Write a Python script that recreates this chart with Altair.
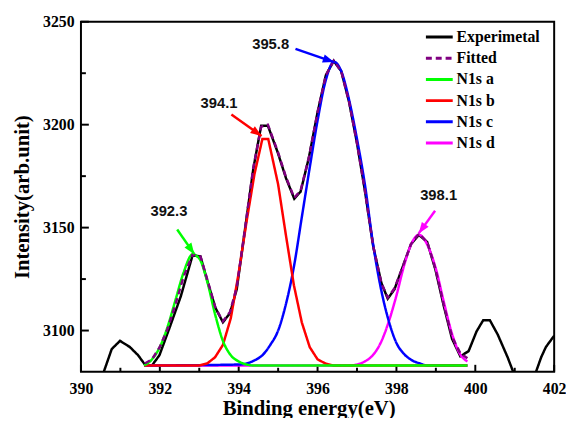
import math
import altair as alt
import pandas as pd

# ---------------- data ----------------
exp_x = [390.40, 390.58, 390.78, 390.99, 391.24, 391.45, 391.62, 391.80, 391.99, 392.24,
         392.53, 392.83, 393.03, 393.20, 393.41, 393.60, 393.78, 393.95, 394.12, 394.37,
         394.57, 394.74, 394.99, 395.20, 395.41, 395.57, 395.78, 396.00, 396.21, 396.41,
         396.60, 396.80, 397.00, 397.20, 397.41, 397.62, 397.78, 397.95, 398.16, 398.37,
         398.57, 398.78, 398.99, 399.20, 399.41, 399.62, 399.83, 400.03, 400.20, 400.37,
         400.57, 400.82, 401.00, 401.25, 401.54, 401.67, 401.79, 402.00]
exp_y = [3073, 3080, 3091, 3095, 3092, 3088, 3083.5, 3083, 3088, 3101,
         3116.5, 3136.5, 3136, 3124.5, 3111, 3104, 3108.5, 3120, 3143.5, 3178.5,
         3199.5, 3199.5, 3186.5, 3174, 3164, 3167.5, 3184, 3206, 3224, 3231,
         3226, 3211, 3191, 3168, 3141, 3123, 3115.5, 3120, 3131, 3142,
         3146.5, 3143, 3129.5, 3112, 3096, 3087.5, 3090, 3099.5, 3105, 3105,
         3098, 3087, 3078, 3068, 3080, 3087, 3092, 3097.5]

fit_x = [391.62, 391.80, 392.00, 392.20, 392.40, 392.60, 392.83, 393.03, 393.20, 393.41,
         393.60, 393.78, 393.95, 394.12, 394.37, 394.57, 394.74, 394.99, 395.20, 395.41,
         395.57, 395.78, 396.00, 396.21, 396.41, 396.60, 396.80, 397.00, 397.20, 397.41,
         397.62, 397.78, 397.95, 398.16, 398.37, 398.57, 398.78, 398.99, 399.20, 399.41,
         399.62, 399.80]
fit_y = [3084, 3086, 3092, 3101, 3113, 3126, 3137, 3136, 3125, 3111,
         3104.5, 3109, 3121, 3144, 3179, 3199, 3200, 3187, 3174.5, 3164.5,
         3168, 3184, 3206, 3224, 3231, 3226, 3211, 3191, 3168, 3141,
         3123, 3116, 3120.5, 3131, 3142, 3147, 3143, 3130, 3112.5, 3097,
         3089, 3086.5]

a_x = [391.6, 391.8, 392.0, 392.2, 392.4, 392.6, 392.83, 393.0, 393.2, 393.4,
       393.6, 393.8, 394.0, 394.2, 394.4, 399.8]
a_y = [3083, 3086, 3092, 3102, 3115, 3128, 3137, 3135, 3124, 3108,
       3095, 3088, 3085, 3083.5, 3083, 3083]

b_x = [391.6, 393.0, 393.2, 393.4, 393.6, 393.8, 394.0, 394.2, 394.4, 394.6,
       394.75, 395.0, 395.2, 395.4, 395.6, 395.8, 396.0, 396.2, 396.4, 399.8]
b_y = [3083, 3083, 3084, 3087, 3093, 3106, 3128, 3153, 3176, 3193,
       3193, 3171, 3146, 3122, 3104, 3092, 3086, 3084, 3083, 3083]

c_x = [391.6, 394.0, 394.2, 394.4, 394.6, 394.8, 395.0, 395.2, 395.4, 395.6,
       395.8, 396.0, 396.2, 396.42, 396.6, 396.8, 397.0, 397.2, 397.4, 397.6,
       397.8, 398.0, 398.2, 398.4, 398.6, 398.8, 399.8]
c_y = [3083, 3083.5, 3084, 3085.5, 3088, 3093, 3100, 3113, 3131, 3155,
       3179, 3202, 3221, 3230.5, 3226, 3212, 3193, 3171, 3143, 3121,
       3105, 3094, 3088.5, 3085.5, 3084, 3083, 3083]

d_x = [391.6, 396.8, 397.0, 397.2, 397.4, 397.6, 397.8, 398.0, 398.2, 398.4,
       398.57, 398.8, 399.0, 399.2, 399.4, 399.6, 399.8]
d_y = [3083, 3083, 3083.5, 3085, 3088, 3094, 3104, 3117, 3132, 3143,
       3146.5, 3141, 3130, 3114, 3099, 3089, 3085]

series_names = ["Experimetal", "Fitted", "N1s a", "N1s b", "N1s c", "N1s d"]
series_colors = ["#000000", "#800080", "#00ff00", "#ff0000", "#0000ff", "#ff00ff"]
series_dash = [[1, 0], [6, 4], [1, 0], [1, 0], [1, 0], [1, 0]]

ann_labels = ["392.3", "394.1", "395.8", "398.1"]
ann_x = [392.23, 393.50, 394.81, 399.07]
ann_y = [3157.8, 3210.4, 3239.0, 3165.6]
arrow_x1 = [392.44, 393.815, 395.44, 398.98]
arrow_y1 = [3149.1, 3204.9, 3236.8, 3158.2]
arrow_x2 = [392.875, 394.58, 396.415, 398.565]
arrow_y2 = [3137.1, 3194.5, 3230.4, 3147.2]
arrow_colors = ["#00ff00", "#ff0000", "#0000ff", "#ff00ff"]

x_major = [390, 392, 394, 396, 398, 400, 402]
x_minor = [391, 393, 395, 397, 399, 401]
y_major = [3100, 3150, 3200, 3250]
y_minor = [3125, 3175, 3225]

x_domain = [390, 402]
y_domain = [3080, 3250]

# ---------------- chart ----------------
W, H = 480, 355
SERIF = "Liberation Serif"

xs = alt.Scale(domain=x_domain, nice=False, zero=False)
ys = alt.Scale(domain=y_domain, nice=False, zero=False)
x_axis = alt.Axis(values=x_major, format="d", title="Binding energy(eV)")
y_axis = alt.Axis(values=y_major, format="d", title="Intensity(arb.unit)")

color_scale = alt.Scale(domain=series_names, range=series_colors)
dash_scale = alt.Scale(domain=series_names, range=series_dash)
legend = alt.Legend(orient="none", legendX=354, legendY=6,
                    symbolType="M-1.7,0L1.7,0", symbolSize=256, symbolStrokeWidth=3,
                    labelFont=SERIF, labelFontSize=16, labelFontWeight="bold",
                    labelColor="black", rowPadding=3.5, labelOffset=8, padding=0)


def series_layer(name, xv, yv, interp="linear", width=2.5):
    df = pd.DataFrame({"x": xv, "y": yv, "series": name})
    return alt.Chart(df).mark_line(clip=True, strokeWidth=width, interpolate=interp).encode(
        x=alt.X("x:Q", scale=xs, axis=x_axis),
        y=alt.Y("y:Q", scale=ys, axis=y_axis),
        color=alt.Color("series:N", scale=color_scale, legend=legend, title=None),
        strokeDash=alt.StrokeDash("series:N", scale=dash_scale, legend=legend, title=None),
        order=alt.Order("x:Q"),
    )


layers = [
    series_layer("Experimetal", exp_x, exp_y),
    series_layer("N1s d", d_x, d_y, "monotone"),
    series_layer("N1s c", c_x, c_y, "monotone"),
    series_layer("N1s b", b_x, b_y, "linear"),
    series_layer("N1s a", a_x, a_y, "monotone"),
    series_layer("Fitted", fit_x, fit_y, "linear", 2.5),
]

# arrows
kx = W / (x_domain[1] - x_domain[0])
ky = H / (y_domain[1] - y_domain[0])
angles = [(math.degrees(math.atan2((x2 - x1) * kx, (y2 - y1) * ky)) + 360) % 360
          for x1, y1, x2, y2 in zip(arrow_x1, arrow_y1, arrow_x2, arrow_y2)]
arr = pd.DataFrame({"x1": arrow_x1, "y1": arrow_y1, "x2": arrow_x2, "y2": arrow_y2,
                    "c": arrow_colors, "ang": angles})
arrow_lines = alt.Chart(arr).mark_rule(strokeWidth=2.5).encode(
    x=alt.X("x1:Q", scale=xs, axis=x_axis), y=alt.Y("y1:Q", scale=ys, axis=y_axis),
    x2="x2:Q", y2="y2:Q", stroke=alt.Stroke("c:N", scale=None))
arrow_heads = alt.Chart(arr).mark_point(
    shape="M0,0L0.6,1.6L-0.6,1.6Z", filled=True, size=200, opacity=1, strokeWidth=0
).encode(
    x=alt.X("x2:Q", scale=xs, axis=x_axis), y=alt.Y("y2:Q", scale=ys, axis=y_axis),
    fill=alt.Fill("c:N", scale=None), angle=alt.Angle("ang:Q", scale=None))

ann = pd.DataFrame({"x": ann_x, "y": ann_y, "t": ann_labels})
ann_text = alt.Chart(ann).mark_text(font="Liberation Sans", fontWeight="bold", fontSize=15,
                                    color="#111111", baseline="middle", align="center").encode(
    x=alt.X("x:Q", scale=xs, axis=x_axis), y=alt.Y("y:Q", scale=ys, axis=y_axis), text="t:N")

# inward tick marks
def xticks(vals, length):
    df = pd.DataFrame({"v": vals})
    return alt.Chart(df).mark_rule(strokeWidth=2, color="black").encode(
        x=alt.X("v:Q", scale=xs, axis=x_axis), y=alt.value(H), y2=alt.value(H - length))


def yticks(vals, length):
    df = pd.DataFrame({"v": vals})
    return alt.Chart(df).mark_rule(strokeWidth=2, color="black").encode(
        y=alt.Y("v:Q", scale=ys, axis=y_axis), x=alt.value(0), x2=alt.value(length))


chart = alt.layer(
    xticks(x_major, 7), xticks(x_minor, 4), yticks(y_major, 8), yticks(y_minor, 5),
    *layers, arrow_lines, arrow_heads, ann_text
).properties(
    width=W, height=H,
    padding={"left": 74, "top": 11, "right": 12, "bottom": 44},
    autosize=alt.AutoSizeParams(type="none"),
).configure_view(
    stroke="black", strokeWidth=2
).configure_axis(
    grid=False, ticks=False, domain=False, labelFlush=False,
    labelFont=SERIF, labelFontSize=16, labelFontWeight="bold", labelColor="black",
    titleFont=SERIF, titleFontSize=21, titleFontWeight="bold", titleColor="black",
).configure_axisX(
    labelPadding=9, titleX=231, titleY=43, titleBaseline="alphabetic", titleAlign="center"
).configure_axisY(
    labelPadding=7, titlePadding=10
)

chart.save("out.html", embed_options={"renderer": "svg", "actions": False})
